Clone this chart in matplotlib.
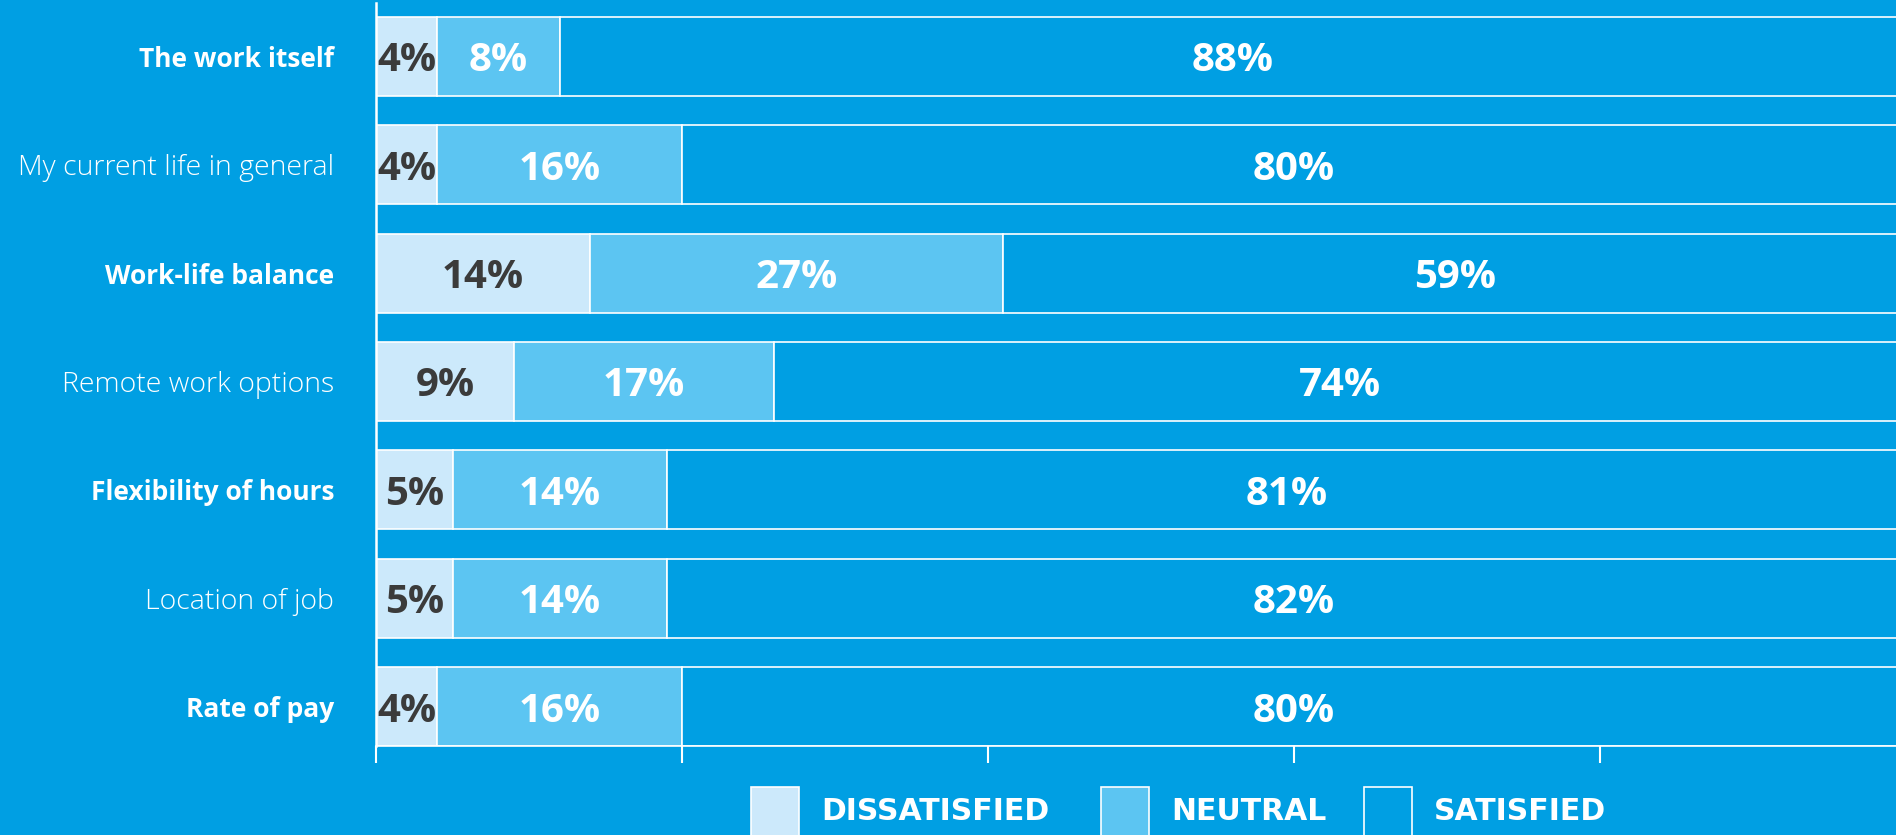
import matplotlib
matplotlib.use("Agg")
import matplotlib.pyplot as plt
from matplotlib.patches import Rectangle

categories = ["The work itself", "My current life in general", "Work-life balance",
              "Remote work options", "Flexibility of hours", "Location of job", "Rate of pay"]
bold_rows = [True, False, True, False, True, False, True]
dissatisfied = [4, 4, 14, 9, 5, 5, 4]
neutral = [8, 16, 27, 17, 14, 14, 16]
satisfied = [88, 80, 59, 74, 81, 82, 80]
series_names = ["DISSATISFIED", "NEUTRAL", "SATISFIED"]
x_ticks = [0, 20, 40, 60, 80, 100]

BG = "#009FE3"
C_DIS = "#CCE9FB"
C_NEU = "#5CC5F2"
C_SAT = BG
DARK = "#3B3B3B"
FONT = ["Open Sans", "DejaVu Sans"]

W, H = 1896, 835
fig = plt.figure(figsize=(W / 100, H / 100), dpi=100, facecolor=BG)
ax = fig.add_axes([376 / W, 1 - 746 / H, 1530 / W, 743 / H])
ax.set_facecolor(BG)

y = list(range(len(categories)))
bh = 0.728
lefts2 = dissatisfied
lefts3 = [a + b for a, b in zip(dissatisfied, neutral)]
kw = dict(height=bh, edgecolor="white", linewidth=1.2)
ax.barh(y, dissatisfied, color=C_DIS, **kw)
ax.barh(y, neutral, left=lefts2, color=C_NEU, **kw)
ax.barh(y, satisfied, left=lefts3, color=C_SAT, **kw)

PS = 29
tkw = dict(ha="center", va="center_baseline", fontsize=PS, fontweight="bold", family=FONT)
for i in y:
    ax.text(dissatisfied[i] / 2, i, f"{dissatisfied[i]}%", color=DARK, **tkw)
    ax.text(lefts2[i] + neutral[i] / 2, i, f"{neutral[i]}%", color="white", **tkw)
    ax.text(lefts3[i] + satisfied[i] / 2, i, f"{satisfied[i]}%", color="white", **tkw)

ax.set_xlim(0, 100)
ax.set_ylim(len(categories) - 1 + bh / 2, -0.493)
ax.set_xticks(x_ticks)
ax.set_xticklabels([])
ax.tick_params(axis="x", direction="out", length=12, width=1.5, color="white")
ax.set_yticks(y)
ax.set_yticklabels(categories)
ax.tick_params(axis="y", length=0, pad=30)
for lbl, b in zip(ax.get_yticklabels(), bold_rows):
    lbl.set_family(FONT)
    lbl.set_color("white")
    lbl.set_verticalalignment("center_baseline")
    if b:
        lbl.set_fontsize(19)
        lbl.set_fontweight("bold")
    else:
        lbl.set_fontsize(20.5)
        lbl.set_fontweight("light")
for s in ["top", "right"]:
    ax.spines[s].set_visible(False)
ax.spines["left"].set_color("white")
ax.spines["left"].set_linewidth(1.8)
ax.spines["bottom"].set_color("white")
ax.spines["bottom"].set_linewidth(1.2)

# legend
leg_colors = [C_DIS, C_NEU, C_SAT]
patch_x = [751, 1101, 1364]
for name, col, px in zip(series_names, leg_colors, patch_x):
    fig.add_artist(Rectangle((px / W, 1 - 850 / H), 48 / W, 63 / H, transform=fig.transFigure,
                             facecolor=col, edgecolor="white", linewidth=1.2))
    fig.text((px + 70) / W, 1 - 812 / H, name, ha="left", va="center", color="white",
             fontsize=21.5, fontweight="bold", family=["DejaVu Sans"])

fig.savefig("out.png", dpi=100, facecolor=BG)
